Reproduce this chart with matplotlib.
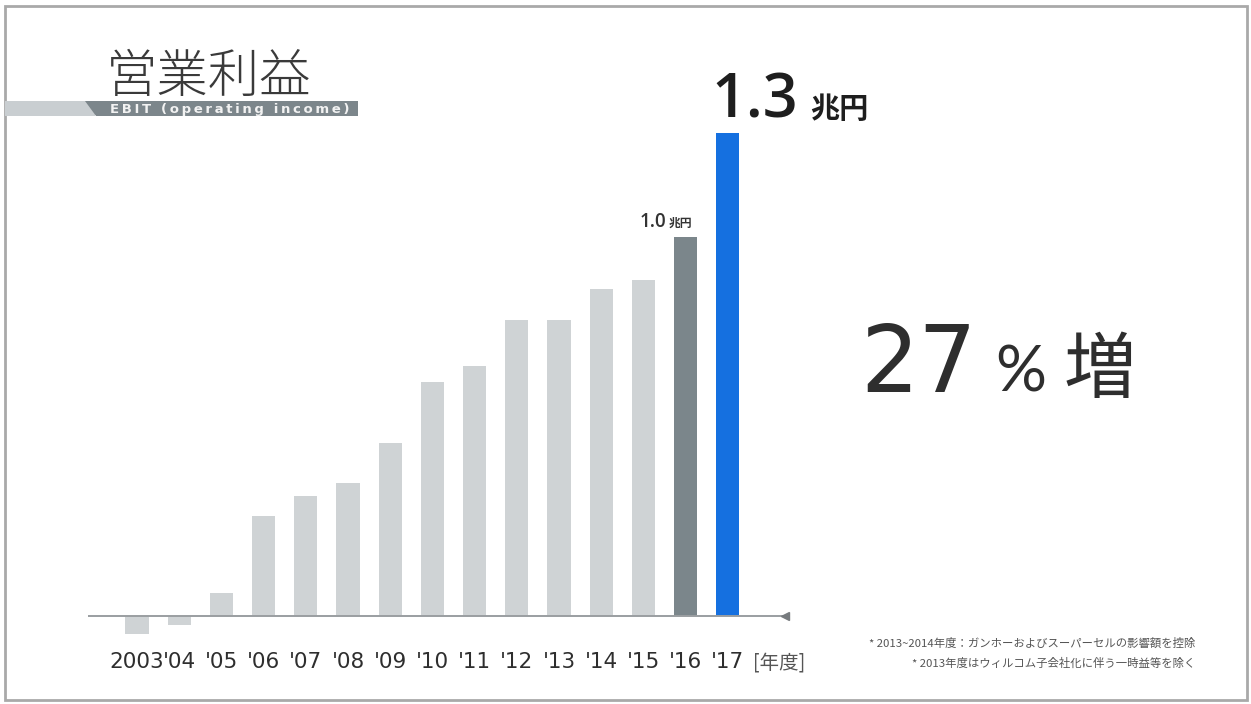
import matplotlib
matplotlib.use("Agg")
import matplotlib.pyplot as plt
from matplotlib import font_manager
from matplotlib.patches import Polygon, Rectangle

# ---- data (兆円) ----
years = ["2003", "'04", "'05", "'06", "'07", "'08", "'09", "'10", "'11",
         "'12", "'13", "'14", "'15", "'16", "'17"]
ebit = [-0.048, -0.024, 0.062, 0.270, 0.323, 0.358, 0.466, 0.630, 0.673,
        0.797, 0.797, 0.880, 0.905, 1.020, 1.300]
bar_colors = ["#cfd3d5"] * 13 + ["#7b868b", "#1570e0"]
label_2016 = "1.0"
label_2017 = "1.3"
unit = "兆円"
title = "営業利益"
subtitle = "EBIT (operating income)"
growth_num = "27"
growth_pct = "%"
growth_word = "増"
year_unit = "[年度]"
notes = ["* 2013~2014年度：ガンホーおよびスーパーセルの影響額を控除",
         "* 2013年度はウィルコム子会社化に伴う一時益等を除く"]

avail = {f.name for f in font_manager.fontManager.ttflist}
CJK = "Noto Sans CJK JP"
LAT = "Lato" if "Lato" in avail else "DejaVu Sans"
OPEN = "Open Sans" if "Open Sans" in avail else "DejaVu Sans"
plt.rcParams['font.family'] = [LAT, CJK, 'DejaVu Sans']

W, H = 1251, 704
fig = plt.figure(figsize=(W / 100, H / 100), dpi=100)
fig.patch.set_facecolor("white")

# overlay axes in pixel coordinates for decorations
ov = fig.add_axes([0, 0, 1, 1])
ov.set_xlim(0, W)
ov.set_ylim(H, 0)
ov.axis("off")

# frame
ov.add_patch(Rectangle((5, 6), 1242, 694, fill=False, edgecolor="#a9a9a9", lw=2))

# title band
ov.add_patch(Rectangle((5, 101), 90, 15, facecolor="#c9ced1", edgecolor="none"))
ov.add_patch(Polygon([(85, 101), (358, 101), (358, 116), (96, 116)], closed=True,
                     facecolor="#7c868b", edgecolor="none"))
spaced_sub = "\u2009".join(subtitle)
ov.text(110, 109.5, spaced_sub, color="#f2f2f2", fontsize=9.5, va="center", ha="left",
        family=['DejaVu Sans'], fontweight="bold")
ov.text(106, 92, title, color="#3a3a3a", fontsize=37, va="baseline", ha="left",
        family=[CJK], fontweight="light")

# growth text
ov.text(860, 392, growth_num, color="#2e2e2e", fontsize=66, va="baseline", ha="left",
        family=['DejaVu Sans'])
ov.text(995, 392, growth_pct, color="#2e2e2e", fontsize=46, va="baseline", ha="left",
        family=[LAT, 'DejaVu Sans'], fontweight="normal")
ov.text(1064, 392, growth_word, color="#2e2e2e", fontsize=52, va="baseline", ha="left",
        family=[CJK])

# footnotes
ov.text(1195, 647, notes[0], color="#555555", fontsize=8.2, ha="right", va="baseline", family=[CJK])
ov.text(1195, 667, notes[1], color="#555555", fontsize=8.2, ha="right", va="baseline", family=[CJK])

# ---- bar axes ----
px_left, px_right = 88, 790
px_top, px_bottom = 133, 640
step, c0 = 42.2, 137
xlo = (px_left - c0) / step
xhi = (px_right - c0) / step
ytop = 1.3
scale = (616 - 133) / ytop
ylo = -(px_bottom - 616) / scale
ax = fig.add_axes([px_left / W, (H - px_bottom) / H,
                   (px_right - px_left) / W, (px_bottom - px_top) / H])
ax.set_xlim(xlo, xhi)
ax.set_ylim(ylo, ytop)
ax.patch.set_alpha(0)
for s in ax.spines.values():
    s.set_visible(False)
ax.set_yticks([])

x = list(range(len(years)))
ax.bar(x, ebit, width=0.55, color=bar_colors, zorder=2)
ax.axhline(0, color="#9a9ea1", lw=1.4, zorder=3)
ax.plot([(785 - c0) / step], [0], marker="<", color="#777b7e", markersize=6, zorder=4)

ax.set_xticks(x)
ax.set_xticklabels(years, family=['DejaVu Sans'], fontsize=15.5, color="#2e2e2e")
ax.tick_params(axis="x", length=0, pad=9)
ax.annotate(year_unit, xy=(len(years) - 0.4, 0), xytext=(0, -53), textcoords="offset pixels",
            fontsize=14, color="#555555", family=[CJK], ha="left", va="baseline")

# value labels
ax.annotate(label_2016, xy=(13, ebit[13]), xytext=(-46, 10), textcoords="offset pixels",
            ha="left", va="baseline", fontsize=13.5, color="#333333", family=[OPEN, 'DejaVu Sans'],
            fontweight="semibold")
ax.annotate(unit, xy=(13, ebit[13]), xytext=(-17, 10), textcoords="offset pixels",
            ha="left", va="baseline", fontsize=8.5, color="#333333", family=[CJK], fontweight="bold")
ax.annotate(label_2017, xy=(14, ebit[14]), xytext=(-16, 15), textcoords="offset pixels",
            ha="left", va="baseline", fontsize=44, color="#1e1e1e", family=[OPEN, 'DejaVu Sans'],
            fontweight="semibold")
ax.annotate(unit, xy=(14, ebit[14]), xytext=(82, 15), textcoords="offset pixels",
            ha="left", va="baseline", fontsize=21, color="#1e1e1e", family=[CJK], fontweight="bold")

fig.savefig("out.png", dpi=100, facecolor="white")
